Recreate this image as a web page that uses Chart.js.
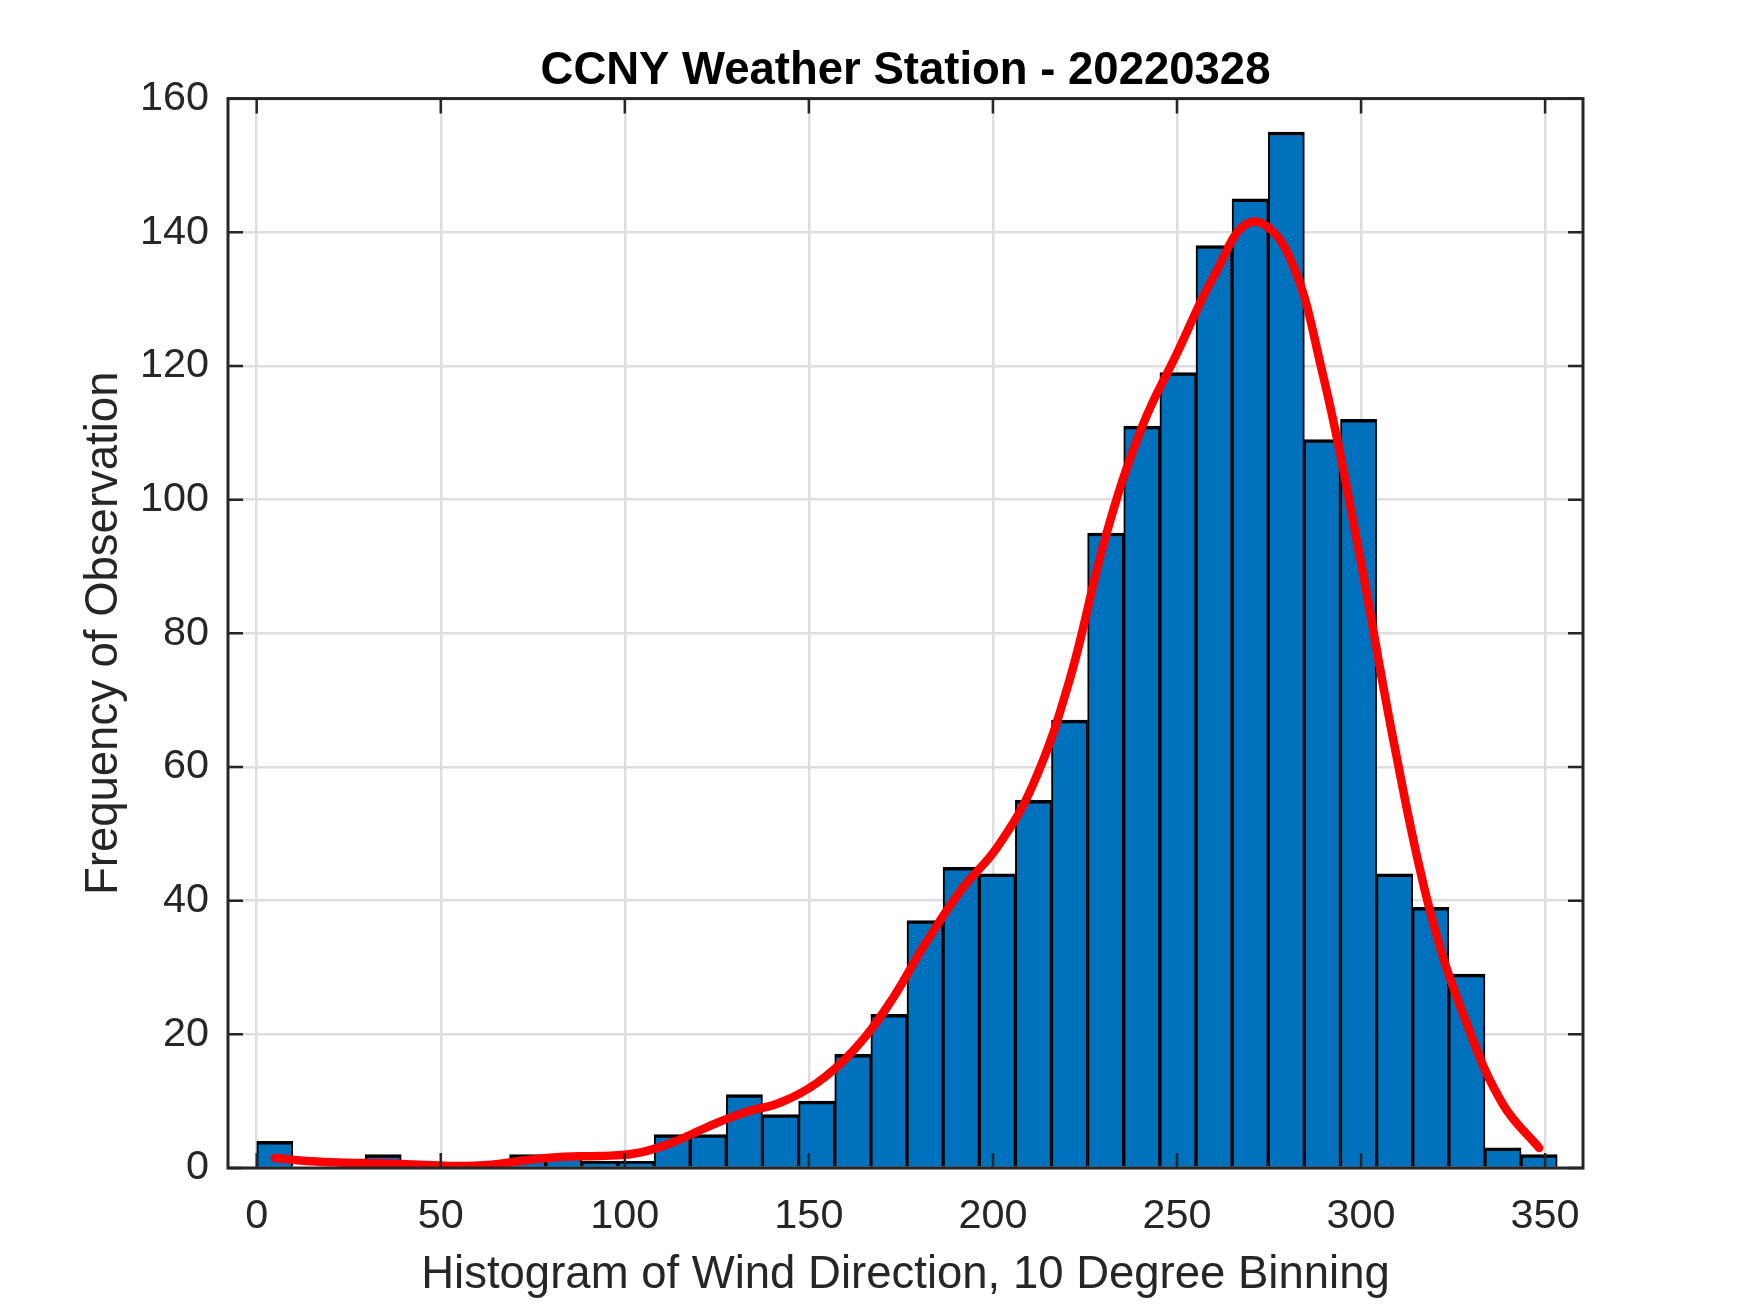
<!DOCTYPE html>
<html>
<head>
<meta charset="utf-8">
<title>CCNY Weather Station - 20220328</title>
<script src="https://cdn.jsdelivr.net/npm/chart.js@4.4.1/dist/chart.umd.min.js"></script>
<style>
  html, body { margin: 0; padding: 0; background: #fff; }
  #wrap { width: 1750px; height: 1313px; }
</style>
</head>
<body>
<div id="wrap"><canvas id="windChart" width="1750" height="1313"></canvas></div>
<script>
// 36 bins of wind direction (deg), centres of each bin
const binCenters = [
    4.91, 14.72, 24.53, 34.35, 44.16, 53.98, 63.79, 73.60, 83.42, 93.23,
    103.05, 112.86, 122.67, 132.49, 142.30, 152.12, 161.93, 171.74, 181.56, 191.37,
    201.19, 211.00, 220.81, 230.63, 240.44, 250.26, 260.07, 269.88, 279.70, 289.51,
    299.33, 309.14, 318.95, 328.77, 338.58, 348.40
];

// observation count in each bin
const counts = [
    4, 0, 0, 2, 0, 0, 0, 2, 2, 1,
    1, 5, 5, 11, 8, 10, 17, 23, 37, 45,
    44, 55, 67, 95, 111, 119, 138, 145, 155, 109,
    112, 44, 39, 29, 3, 2
];

// smoothed density curve (scaled to counts), read at the bin centres
const densityY = [
    1.5, 1.0, 0.8, 0.7, 0.5, 0.3, 0.5, 1.2, 1.7, 1.8,
    2.2, 3.8, 6.2, 8.3, 9.8, 12.7, 17.5, 24.5, 33.5, 41.6,
    48, 57.5, 73, 94.5, 110.8, 122.2, 133.5, 141.5, 137.3, 119,
    92.5, 63, 38, 21.5, 9.5, 3.0
];

const xTicks = [0, 50, 100, 150, 200, 250, 300, 350];
const yTicks = [0, 20, 40, 60, 80, 100, 120, 140, 160];

const FONT = '"Liberation Sans", Arial, Helvetica, sans-serif';
const AXIS_COLOR = '#262626';

// MATLAB style box: frame all round with inward ticks, drawn over the bars
const axesBox = {
    id: 'axesBox',
    afterDatasetsDraw(chart) {
        const { ctx, chartArea: a, scales: { x, y } } = chart;
        const tickLen = 15;
        ctx.save();
        ctx.strokeStyle = AXIS_COLOR;
        ctx.lineWidth = 2.5;
        ctx.beginPath();
        xTicks.forEach(v => {
            const px = x.getPixelForValue(v);
            ctx.moveTo(px, a.bottom);
            ctx.lineTo(px, a.bottom - tickLen);
            ctx.moveTo(px, a.top);
            ctx.lineTo(px, a.top + tickLen);
        });
        yTicks.forEach(v => {
            const py = y.getPixelForValue(v);
            ctx.moveTo(a.left, py);
            ctx.lineTo(a.left + tickLen, py);
            ctx.moveTo(a.right, py);
            ctx.lineTo(a.right - tickLen, py);
        });
        ctx.stroke();
        ctx.lineWidth = 3;
        ctx.strokeRect(a.left, a.top, a.right - a.left, a.bottom - a.top);
        ctx.restore();
    }
};

const ctx = document.getElementById('windChart').getContext('2d');

new Chart(ctx, {
    type: 'bar',
    data: {
        datasets: [
            {
                type: 'line',
                data: binCenters.map((x, i) => ({ x: x, y: densityY[i] })),
                borderColor: '#ff0000',
                borderWidth: 8.5,
                pointRadius: 0,
                fill: false,
                tension: 0.4,
                borderCapStyle: 'round',
                borderJoinStyle: 'round',
                order: 0
            },
            {
                type: 'bar',
                data: binCenters.map((x, i) => ({ x: x, y: counts[i] })),
                backgroundColor: '#0072BD',
                borderColor: '#000000',
                borderWidth: { top: 3.5, left: 2, right: 2, bottom: 0 },
                barPercentage: 1,
                categoryPercentage: 1,
                order: 1
            }
        ]
    },
    options: {
        responsive: false,
        devicePixelRatio: 1,
        animation: false,
        layout: { padding: { left: 0, right: 167, top: 0, bottom: 0 } },
        plugins: {
            legend: { display: false },
            tooltip: { enabled: false },
            title: {
                display: true,
                fullSize: false,
                text: 'CCNY Weather Station - 20220328',
                color: '#000000',
                font: { family: FONT, size: 45.5, weight: 'bold' },
                padding: { top: 44, bottom: 0 }
            }
        },
        scales: {
            x: {
                type: 'linear',
                min: -7.8,
                max: 360.3,
                offset: false,
                afterBuildTicks: scale => { scale.ticks = xTicks.map(v => ({ value: v })); },
                afterFit: scale => { scale.height = 145; },
                grid: { color: '#dedede', lineWidth: 2.5, drawTicks: false, offset: false },
                border: { display: false },
                ticks: {
                    color: AXIS_COLOR,
                    font: { family: FONT, size: 41.4 },
                    padding: 24,
                    maxRotation: 0,
                    autoSkip: false
                },
                title: {
                    display: true,
                    text: 'Histogram of Wind Direction, 10 Degree Binning',
                    color: AXIS_COLOR,
                    font: { family: FONT, size: 45.5 },
                    padding: { top: 0, bottom: 10 }
                }
            },
            y: {
                min: 0,
                max: 160,
                afterBuildTicks: scale => { scale.ticks = yTicks.map(v => ({ value: v })); },
                afterFit: scale => { scale.width = 228; },
                grid: { color: '#dedede', lineWidth: 2.5, drawTicks: false },
                border: { display: false },
                ticks: {
                    color: AXIS_COLOR,
                    font: { family: FONT, size: 41.4 },
                    padding: 19
                },
                title: {
                    display: true,
                    text: 'Frequency of Observation',
                    color: AXIS_COLOR,
                    font: { family: FONT, size: 45.5 },
                    padding: { top: 77, bottom: 0 }
                }
            }
        }
    },
    plugins: [axesBox]
});
</script>
</body>
</html>
